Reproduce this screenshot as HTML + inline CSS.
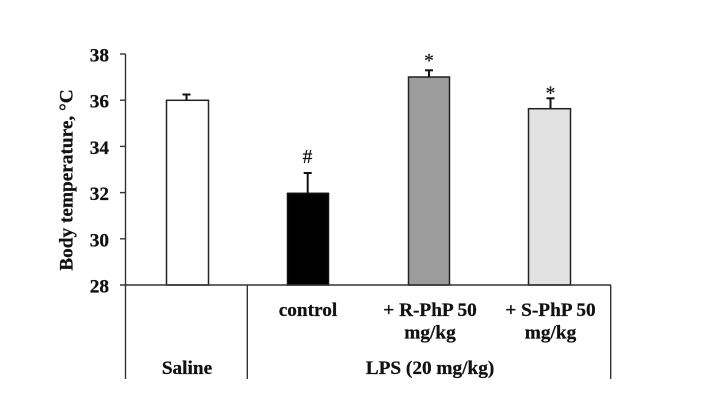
<!DOCTYPE html>
<html>
<head>
<meta charset="utf-8">
<style>
html,body{margin:0;padding:0;background:#fff;}
svg{display:block;}
text{font-family:"Liberation Serif","Times New Roman",serif;fill:#111;}
.b{font-weight:bold;font-size:19.3px;stroke:#111;stroke-width:0.25px;}
</style>
</head>
<body>
<svg width="706" height="410" viewBox="0 0 706 410" xmlns="http://www.w3.org/2000/svg">
  <rect x="0" y="0" width="706" height="410" fill="#fff"/>

  <!-- bars -->
  <rect x="166.5" y="100.3" width="42" height="184.7" fill="#ffffff" stroke="#222" stroke-width="1.5"/>
  <rect x="287.5" y="193.3" width="41" height="91.7" fill="#000000" stroke="#111" stroke-width="1.5"/>
  <rect x="408.5" y="77" width="41" height="208" fill="#9c9c9c" stroke="#222" stroke-width="1.5"/>
  <rect x="528.5" y="108.7" width="42" height="176.3" fill="#e2e2e2" stroke="#222" stroke-width="1.5"/>

  <!-- error bars -->
  <g stroke="#111" stroke-width="2" fill="none">
    <line x1="186.5" y1="100" x2="186.5" y2="94.5"/>
    <line x1="182.5" y1="94.5" x2="190.5" y2="94.5"/>
    <line x1="307.7" y1="193" x2="307.7" y2="173"/>
    <line x1="303.7" y1="173" x2="311.7" y2="173"/>
    <line x1="429" y1="77" x2="429" y2="70.3"/>
    <line x1="425" y1="70.3" x2="433" y2="70.3"/>
    <line x1="550.5" y1="108.5" x2="550.5" y2="98.3"/>
    <line x1="546.5" y1="98.3" x2="554.5" y2="98.3"/>
  </g>

  <!-- axes -->
  <g stroke="#333" stroke-width="1.4" fill="none">
    <line x1="125.5" y1="54" x2="125.5" y2="379"/>
    <line x1="120" y1="285" x2="611" y2="285"/>
    <line x1="247.3" y1="285" x2="247.3" y2="379"/>
    <line x1="610.7" y1="285" x2="610.7" y2="379"/>
    <line x1="120" y1="54" x2="125.5" y2="54"/>
    <line x1="120" y1="100.2" x2="125.5" y2="100.2"/>
    <line x1="120" y1="146.4" x2="125.5" y2="146.4"/>
    <line x1="120" y1="192.6" x2="125.5" y2="192.6"/>
    <line x1="120" y1="238.8" x2="125.5" y2="238.8"/>
  </g>

  <!-- tick labels -->
  <g class="b" text-anchor="end">
    <text x="109" y="61.5">38</text>
    <text x="109" y="107.7">36</text>
    <text x="109" y="153.9">34</text>
    <text x="109" y="200.1">32</text>
    <text x="109" y="246.3">30</text>
    <text x="109" y="292.5">28</text>
  </g>

  <!-- y label -->
  <text class="b" text-anchor="middle" transform="translate(72.5,180) rotate(-90)">Body temperature, °C</text>

  <!-- significance marks -->
  <text x="307.5" y="163" text-anchor="middle" style="font-size:19.5px;stroke:#111;stroke-width:0.2px;">#</text>
  <text x="429" y="67" text-anchor="middle" style="font-size:19.5px;stroke:#111;stroke-width:0.2px;">*</text>
  <text x="550.5" y="99.5" text-anchor="middle" style="font-size:19.5px;stroke:#111;stroke-width:0.2px;">*</text>

  <!-- category labels -->
  <g class="b" text-anchor="middle">
    <text x="308" y="316">control</text>
    <text x="430" y="316">+ R-PhP 50</text>
    <text x="430" y="338.5">mg/kg</text>
    <text x="550.5" y="316">+ S-PhP 50</text>
    <text x="550.5" y="338.5">mg/kg</text>
    <text x="187" y="374">Saline</text>
    <text x="430" y="374">LPS (20 mg/kg)</text>
  </g>
</svg>
</body>
</html>
